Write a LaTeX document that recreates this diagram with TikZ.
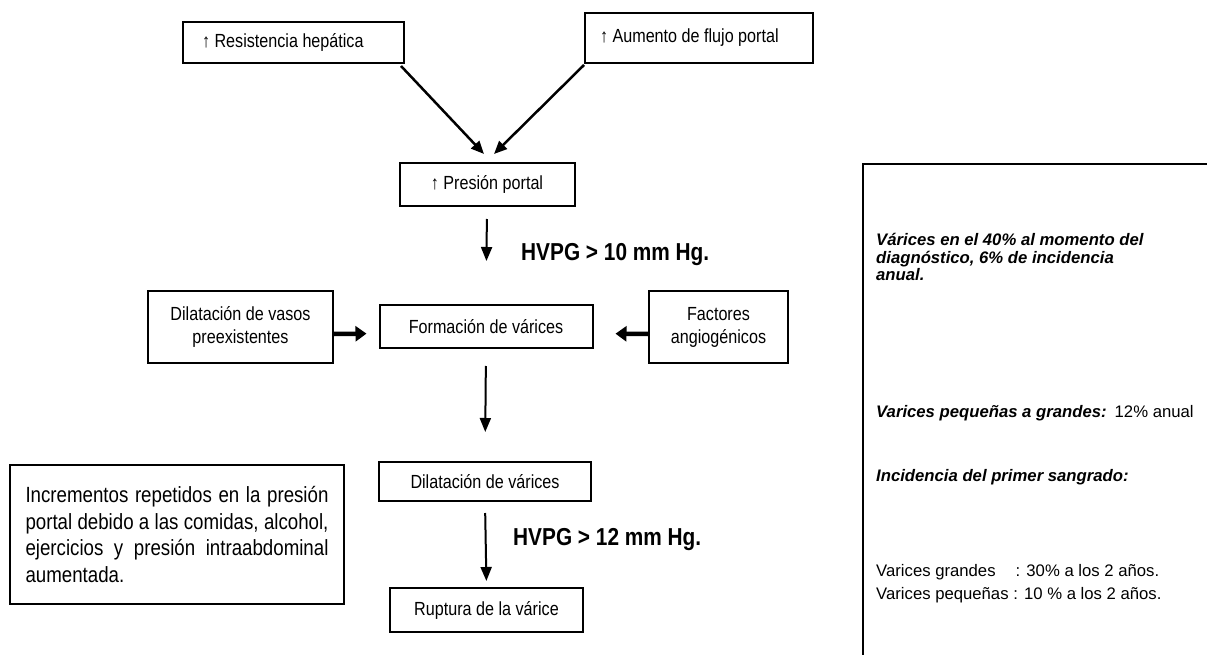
\documentclass[tikz,border=0pt]{standalone}
\usepackage{fontspec}
\setmainfont{Liberation Sans}
\newfontfamily\cond[FakeStretch=0.85]{Liberation Sans}
\usetikzlibrary{arrows.meta}
\begin{document}
\begin{tikzpicture}[x=1pt,y=-1pt,
  box/.style={draw, line width=2pt, inner sep=0pt, align=center, font={\cond\fontsize{19}{22}\selectfont}},
  twoline/.style={font={\cond\fontsize{19}{23}\selectfont}},
  darrow/.style={line width=2.5pt, -{Triangle[length=13pt,width=11pt]}},
  varrow/.style={line width=2pt, -{Triangle[length=14pt,width=11pt]}},
  harrow/.style={line width=4.5pt, -{Triangle[length=11pt,width=15pt]}},
  hvpg/.style={font={\cond\bfseries\fontsize{24.5}{26}\selectfont}, anchor=west, inner sep=0pt},
  side/.style={anchor=west, inner sep=0pt, align=left, font={\fontsize{16.7}{17.5}\selectfont}}]
\useasboundingbox (0,0) rectangle (1207,655);
\fill[white] (0,0) rectangle (1207,655);

% top boxes
\node[box, minimum width=221pt, minimum height=41pt] (res) at (293.5,42.5) {\makebox[183pt][l]{↑ Resistencia hepática}};
\node[box, minimum width=228pt, minimum height=50pt] (aum) at (699,38) {\makebox[198pt][l]{↑ Aumento de flujo portal}};
\node[box, minimum width=175pt, minimum height=43pt] (pres) at (487,184.5) {↑ Presión portal};

% middle row
\node[box, twoline, minimum width=185pt, minimum height=72pt] (dv) at (240.5,327) {Dilatación de vasos\\preexistentes};
\node[box, minimum width=213pt, minimum height=43pt] (form) at (486,326.5) {Formación de várices};
\node[box, twoline, minimum width=139pt, minimum height=72pt] (fac) at (718.5,327) {Factores\\angiogénicos};

% lower
\node[box, minimum width=212pt, minimum height=39pt] (dvar) at (485,481.5) {Dilatación de várices};
\node[box, minimum width=193pt, minimum height=44pt] (rup) at (486.5,610) {Ruptura de la várice};
\node[box, minimum height=139pt, text width=303pt, inner xsep=15.5pt, align=justify,
  font={\cond\fontsize{22}{26.5}\selectfont}] (inc) at (177,534.5)
  {\hyphenpenalty10000 \exhyphenpenalty10000 \tolerance9999 \emergencystretch20pt Incrementos repetidos en la presión portal debido a las comidas, alcohol, ejercicios y presión intraabdominal aumentada.\par};

% labels
\node[hvpg] (h1) at (521,255) {HVPG > 10 mm Hg.};
\node[hvpg] (h2) at (513,540) {HVPG > 12 mm Hg.};

% connectors
\draw[darrow] ([xshift=-4pt,yshift=-2pt]res.south east) -- ([xshift=-3pt,yshift=8pt]pres.north);
\draw[darrow] ([yshift=-1pt]aum.south west) -- ([xshift=7pt,yshift=8pt]pres.north);
\draw[varrow, shorten <=12pt, shorten >=43pt] (pres.south) -- (form.north);
\draw[harrow, shorten >=12pt] ([yshift=-7pt]dv.east) -- ([yshift=-7pt]form.west);
\draw[harrow, shorten >=22pt] ([yshift=-7pt]fac.west) -- ([yshift=-7pt]form.east);
\draw[varrow, shorten <=17pt, shorten >=29pt] (form.south) -- (dvar.north);
\draw[varrow, shorten <=11pt, shorten >=6pt] (dvar.south) -- (rup.north);

% right panel
\node[draw, line width=2pt, minimum width=420pt, minimum height=540pt, anchor=north west, inner sep=0pt] (panel) at (862,163) {};
\node[side] (t1) at (876,257) {\bfseries\itshape Várices en el 40\% al momento del\\\bfseries\itshape diagnóstico, 6\% de incidencia\\\bfseries\itshape anual.};
\node[side] (t2) at (876,413) {\textbf{\textit{Varices pequeñas a grandes:}}\hspace{8pt}12\% anual};
\node[side] (t3) at (876,477) {\bfseries\itshape Incidencia del primer sangrado:};
\node[side, font={\fontsize{16.7}{23}\selectfont}] (t4) at (876,583.5) {Varices grandes\hspace{20pt}: 30\% a los 2 años.\\Varices pequeñas : 10 \% a los 2 años.};
\end{tikzpicture}
\end{document}
